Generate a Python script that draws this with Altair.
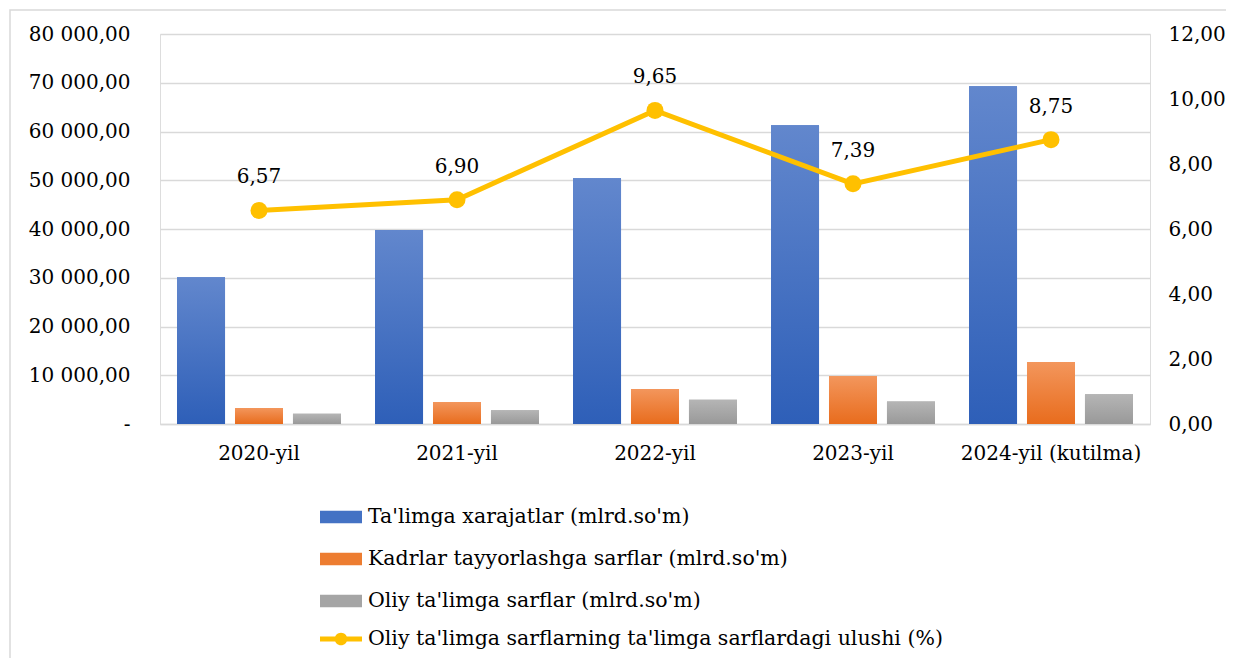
import altair as alt
import pandas as pd

years = ["2020-yil", "2021-yil", "2022-yil", "2023-yil", "2024-yil (kutilma)"]
talim = [30100, 39800, 50400, 61300, 69300]
kadr = [3300, 4500, 7200, 9800, 12700]
oliy = [2100, 2800, 5000, 4600, 6100]
ulush = [6.57, 6.90, 9.65, 7.39, 8.75]

s1 = "Ta'limga xarajatlar (mlrd.so'm)"
s2 = "Kadrlar tayyorlashga sarflar (mlrd.so'm)"
s3 = "Oliy ta'limga sarflar (mlrd.so'm)"
s4 = "Oliy ta'limga sarflarning ta'limga sarflardagi ulushi (%)"
series = [s1, s2, s3]

rows = []
for i, y in enumerate(years):
    for s, vals in zip(series, [talim, kadr, oliy]):
        rows.append({"year": y, "series": s, "value": vals[i]})
bars_df = pd.DataFrame(rows)
line_df = pd.DataFrame({"year": years, "share": ulush, "series": [s4] * len(years)})

FONT = "DejaVu Serif"
FS = 20
LFS = 20.5
W, H = 990, 390

x_enc = alt.X("year:N", sort=years, title=None,
              scale=alt.Scale(paddingInner=0.172, paddingOuter=0.086),
              axis=alt.Axis(labelAngle=0, labelFont=FONT, labelFontSize=FS, labelColor="#000000",
                            labelPadding=19, labelLimit=400, ticks=False, domainColor="#d9d9d9",
                            domainWidth=1.5))
xoff = alt.XOffset("series:N", sort=series,
                   scale=alt.Scale(domain=series, paddingInner=0.172, paddingOuter=0))
y_enc = alt.Y("value:Q", title=None,
              scale=alt.Scale(domain=[0, 80000], nice=False),
              axis=alt.Axis(values=list(range(0, 80001, 10000)), grid=True, gridColor="#d9d9d9",
                            gridWidth=1.5, domain=False, ticks=False, labelFont=FONT,
                            labelFontSize=FS, labelColor="#000000", labelPadding=30,
                            labelExpr="datum.value == 0 ? '-' : replace(replace(format(datum.value, ',.2f'), regexp(',', 'g'), ' '), '.', ',')"))

base = alt.Chart(bars_df)
legend_bars = alt.Legend(title=None, orient="none", legendX=160, legendY=462, direction="vertical",
                         symbolType="M-1,-0.3H1V0.3H-1Z", symbolSize=1764, symbolStrokeWidth=0,
                         labelFont=FONT, labelFontSize=LFS, labelColor="#000000", labelOffset=6,
                         rowPadding=10, padding=0, labelLimit=800)
bar_base = base.mark_bar().encode(
    x=x_enc, xOffset=xoff, y=y_enc,
    color=alt.Color("series:N", sort=series,
                    scale=alt.Scale(domain=series, range=["#4472c4", "#ed7d31", "#a5a5a5"]),
                    legend=legend_bars)
)

grads = [("#6287cd", "#2e5fb8"), ("#f3965c", "#e86c1d"), ("#b5b5b5", "#999999")]
grad_layers = []
for s, (c0, c1) in zip(series, grads):
    g = alt.LinearGradient(gradient="linear", x1=0, x2=0, y1=0, y2=1,
                           stops=[alt.GradientStop(offset=0, color=c0),
                                  alt.GradientStop(offset=1, color=c1)])
    grad_layers.append(
        base.transform_filter(alt.datum.series == s).mark_bar(color=g).encode(
            x=alt.X("year:N", sort=years), xOffset=alt.XOffset("series:N", sort=series),
            y=alt.Y("value:Q"))
    )

bars = alt.layer(bar_base, *grad_layers)

lbase = alt.Chart(line_df)
y2_enc = alt.Y("share:Q", title=None,
               scale=alt.Scale(domain=[0, 12], nice=False),
               axis=alt.Axis(orient="right", values=list(range(0, 13, 2)), grid=False, domain=False,
                             ticks=False, labelFont=FONT, labelFontSize=FS, labelColor="#000000",
                             labelPadding=18,
                             labelExpr="replace(format(datum.value, '.2f'), '.', ',')"))
line = lbase.mark_line(color="#ffc000", strokeWidth=5).encode(
    x=alt.X("year:N", sort=years), y=y2_enc)
legend_line = alt.Legend(title=None, orient="none", legendX=160, legendY=584,
                         symbolType="M-1,-0.12H1V0.12H-1Z M-0.3,0 A0.3,0.3 0 1,1 0.3,0 A0.3,0.3 0 1,1 -0.3,0 Z",
                         symbolSize=1764, symbolStrokeWidth=0, symbolFillColor="#ffc000",
                         labelFont=FONT, labelFontSize=LFS, labelColor="#000000", labelOffset=6,
                         padding=0, labelLimit=800)
points = lbase.mark_point(filled=True, size=289, opacity=1).encode(
    x=alt.X("year:N", sort=years), y=alt.Y("share:Q"),
    color=alt.Color("series:N", scale=alt.Scale(domain=[s4], range=["#ffc000"]), legend=legend_line))
labels = lbase.transform_calculate(
    lab="replace(format(datum.share, '.2f'), '.', ',')"
).mark_text(font=FONT, fontSize=FS, color="#000000", dy=-33, baseline="middle").encode(
    x=alt.X("year:N", sort=years), y=alt.Y("share:Q"), text="lab:N")

linel = alt.layer(line, points, labels)

frame = alt.Chart(pd.DataFrame({"a": [0]})).mark_rect(
    fillOpacity=0, stroke="#d9d9d9", strokeWidth=1.5).encode(
    x=alt.value(-150), x2=alt.value(1200), y=alt.value(-24), y2=alt.value(700))

chart = alt.layer(frame, bars, linel).resolve_scale(y="independent", color="independent").properties(
    width=W, height=H, padding={"left": 152, "top": 26, "right": 76, "bottom": 234},
    autosize=alt.AutoSizeParams(type="none")
).configure_view(strokeWidth=0).configure(background="#ffffff")

chart.save("out.html", embed_options={"renderer": "svg", "actions": False})
